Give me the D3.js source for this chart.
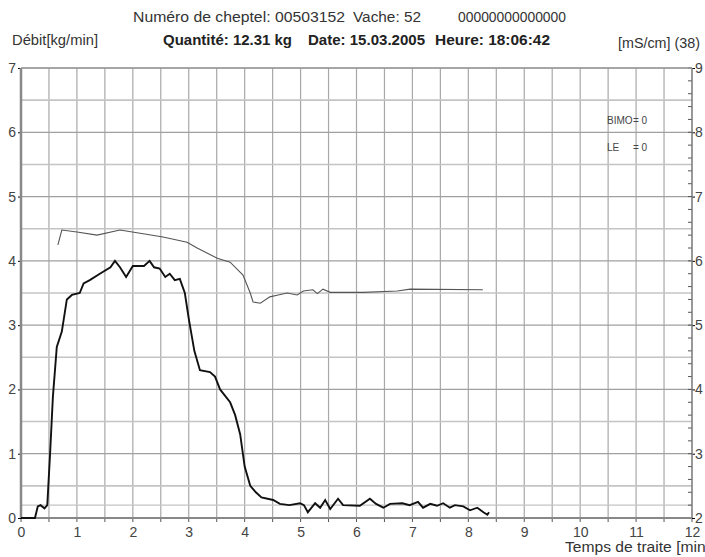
<!DOCTYPE html>
<html>
<head>
<meta charset="utf-8">
<script src="https://cdn.jsdelivr.net/npm/d3@7"></script>
<style>
  body { margin: 0; background: #fff; }
  svg { font-family: "Liberation Sans", Arial, sans-serif; }
</style>
</head>
<body>
<div id="chart"></div>
<script>
// flow curve (left axis, kg/min) - time in minutes
var flowTime = [0, 0.25, 0.3, 0.35, 0.42, 0.47, 0.52, 0.57, 0.64, 0.73, 0.82, 0.91, 1.05, 1.12, 1.23, 1.41, 1.6, 1.68, 1.77, 1.88, 2.0, 2.2, 2.3, 2.38, 2.48, 2.58, 2.66, 2.75, 2.84, 2.93, 3.0, 3.1, 3.2, 3.38, 3.47, 3.56, 3.74, 3.83, 3.92, 4.0, 4.1, 4.2, 4.3, 4.51, 4.63, 4.8, 4.99, 5.06, 5.13, 5.26, 5.35, 5.44, 5.53, 5.67, 5.76, 6.06, 6.24, 6.35, 6.48, 6.6, 6.82, 6.95, 7.1, 7.19, 7.32, 7.44, 7.55, 7.67, 7.76, 7.91, 8.03, 8.16, 8.27, 8.34, 8.37];
var flowValue = [0, 0, 0.18, 0.2, 0.15, 0.2, 1.0, 1.88, 2.66, 2.9, 3.4, 3.47, 3.5, 3.65, 3.7, 3.8, 3.9, 4.0, 3.9, 3.75, 3.92, 3.92, 4.0, 3.9, 3.88, 3.75, 3.8, 3.7, 3.72, 3.5, 3.1, 2.6, 2.3, 2.27, 2.2, 2.0, 1.8, 1.6, 1.3, 0.8, 0.5, 0.4, 0.32, 0.28, 0.22, 0.2, 0.23, 0.2, 0.09, 0.23, 0.16, 0.28, 0.14, 0.3, 0.2, 0.19, 0.3, 0.22, 0.16, 0.22, 0.23, 0.2, 0.25, 0.16, 0.22, 0.19, 0.23, 0.16, 0.2, 0.18, 0.12, 0.16, 0.09, 0.05, 0.09];

// conductivity curve (right axis, mS/cm)
var condTime = [0.66, 0.73, 1.0, 1.36, 1.77, 2.13, 2.54, 2.97, 3.15, 3.51, 3.74, 3.97, 4.1, 4.15, 4.28, 4.45, 4.6, 4.76, 4.94, 5.05, 5.22, 5.3, 5.4, 5.53, 6.12, 6.73, 6.96, 8.26];
var condValue = [6.25, 6.48, 6.45, 6.40, 6.48, 6.43, 6.37, 6.29, 6.20, 6.04, 5.98, 5.78, 5.5, 5.36, 5.34, 5.44, 5.47, 5.50, 5.47, 5.53, 5.55, 5.49, 5.56, 5.51, 5.51, 5.53, 5.56, 5.55];

var xTicks = [0, 1, 2, 3, 4, 5, 6, 7, 8, 9, 10, 11, 12];
var leftTicks = [0, 1, 2, 3, 4, 5, 6, 7];
var rightTicks = [2, 3, 4, 5, 6, 7, 8, 9];

var width = 705, height = 557;
var margin = {top: 68, right: 13, bottom: 39, left: 21};

var svg = d3.select("#chart").append("svg")
    .attr("width", width)
    .attr("height", height);

var x = d3.scaleLinear().domain([0, 12]).range([margin.left, width - margin.right]);
var yL = d3.scaleLinear().domain([0, 7]).range([height - margin.bottom, margin.top]);
var yR = d3.scaleLinear().domain([2, 9]).range([height - margin.bottom, margin.top]);

// grid
var gridX = d3.range(0.5, 12, 0.5);
svg.selectAll(".vgrid").data(gridX).enter().append("line")
    .attr("x1", function(d){ return x(d); })
    .attr("x2", function(d){ return x(d); })
    .attr("y1", yL(7)).attr("y2", yL(0))
    .style("stroke", "#a8a8a8").style("stroke-width", 1.2);

var gridY = d3.range(0.5, 7.01, 0.5);
svg.selectAll(".hgrid").data(gridY).enter().append("line")
    .attr("x1", x(0)).attr("x2", x(12))
    .attr("y1", function(d){ return yL(d); })
    .attr("y2", function(d){ return yL(d); })
    .style("stroke", function(d){ return d % 1 == 0 ? "#a0a0a0" : "#c4c4c4"; })
    .style("stroke-width", function(d){ return d % 1 == 0 ? 1.2 : 1.6; });

// threshold line
svg.append("line")
    .attr("x1", x(0)).attr("x2", x(12))
    .attr("y1", yL(0.2)).attr("y2", yL(0.2))
    .style("stroke", "#c4c4c4").style("stroke-width", 1.4);

// axes
var xAxis = d3.axisBottom(x).tickValues(xTicks).tickFormat(d3.format("d")).tickSize(0).tickPadding(9);
var gx = svg.append("g").attr("transform", "translate(0," + yL(0) + ")").call(xAxis);
gx.select(".domain").remove();
gx.selectAll("text").style("font-size", "14px").style("fill", "#444");

svg.selectAll(".xminor").data(d3.range(0, 12.01, 0.5)).enter().append("line")
    .attr("x1", function(d){ return x(d); })
    .attr("x2", function(d){ return x(d); })
    .attr("y1", yL(0)).attr("y2", yL(0) + 4)
    .style("stroke", "#555");

var leftAxis = d3.axisLeft(yL).tickValues(leftTicks).tickFormat(d3.format("d")).tickSize(3).tickPadding(2);
var gl = svg.append("g").attr("transform", "translate(" + x(0) + ",0)").call(leftAxis);
gl.select(".domain").remove();
gl.selectAll("text").style("font-size", "14px").style("fill", "#444");

var rightAxis = d3.axisRight(yR).tickValues(rightTicks).tickFormat(d3.format("d")).tickSize(3).tickPadding(0);
var gr = svg.append("g").attr("transform", "translate(" + x(12) + ",0)").call(rightAxis);
gr.select(".domain").remove();
gr.selectAll("text").style("font-size", "14px").style("fill", "#444");

svg.selectAll(".rminor").data(d3.range(2, 9.01, 0.2)).enter().append("line")
    .attr("x1", x(12) - 4).attr("x2", x(12))
    .attr("y1", function(d){ return yR(d); })
    .attr("y2", function(d){ return yR(d); })
    .style("stroke", "#555");

// frame lines
svg.append("line").attr("x1", x(0)).attr("x2", x(0)).attr("y1", yL(7)).attr("y2", yL(0))
    .style("stroke", "#888").style("stroke-width", 2.5);
svg.append("line").attr("x1", x(12)).attr("x2", x(12)).attr("y1", yL(7)).attr("y2", yL(0))
    .style("stroke", "#777").style("stroke-width", 1.5);
svg.append("line").attr("x1", x(0)).attr("x2", x(12)).attr("y1", yL(0)).attr("y2", yL(0))
    .style("stroke", "#888").style("stroke-width", 2);
svg.append("line").attr("x1", x(0)).attr("x2", x(12)).attr("y1", yL(7)).attr("y2", yL(7))
    .style("stroke", "#999").style("stroke-width", 1.5);

// conductivity line
var condLine = d3.line()
    .x(function(d){ return x(d[0]); })
    .y(function(d){ return yR(d[1]); });
svg.append("path")
    .datum(d3.zip(condTime, condValue))
    .attr("d", condLine)
    .style("fill", "none")
    .style("stroke", "#555")
    .style("stroke-width", 1.1);

// flow line
var flowLine = d3.line()
    .x(function(d){ return x(d[0]); })
    .y(function(d){ return yL(d[1]); });
svg.append("path")
    .datum(d3.zip(flowTime, flowValue))
    .attr("d", flowLine)
    .style("fill", "none")
    .style("stroke", "#111")
    .style("stroke-width", 1.9);

// header texts - each piece placed on its own
function label(txt, xp, yp, len, bold) {
  svg.append("text")
    .attr("x", xp).attr("y", yp)
    .attr("textLength", len).attr("lengthAdjust", "spacingAndGlyphs")
    .text(txt)
    .style("font-size", "14px")
    .style("font-weight", bold ? "bold" : "normal")
    .style("fill", bold ? "#222" : "#333");
}
label("Numéro de cheptel: 00503152", 133, 22, 212, false);
label("Vache: 52", 353, 22, 68, false);
label("00000000000000", 458, 22, 108, false);
label("Quantité: 12.31 kg", 163, 45, 129, true);
label("Date: 15.03.2005", 308, 45, 117, true);
label("Heure: 18:06:42", 435, 45, 115, true);
label("Débit[kg/min]", 12, 45, 86, false);
label("[mS/cm] (38)", 618, 48, 82, false);
label("Temps de traite [min]", 565, 552, 145, false);

// legend values
svg.append("text").attr("x", 607).attr("y", 124).text("BIMO")
    .style("font-size", "10px").style("fill", "#444");
svg.append("text").attr("x", 633).attr("y", 124).text("= 0")
    .style("font-size", "10px").style("fill", "#444");
svg.append("text").attr("x", 607).attr("y", 151).text("LE")
    .style("font-size", "10px").style("fill", "#444");
svg.append("text").attr("x", 633).attr("y", 151).text("= 0")
    .style("font-size", "10px").style("fill", "#444");
</script>
</body>
</html>
